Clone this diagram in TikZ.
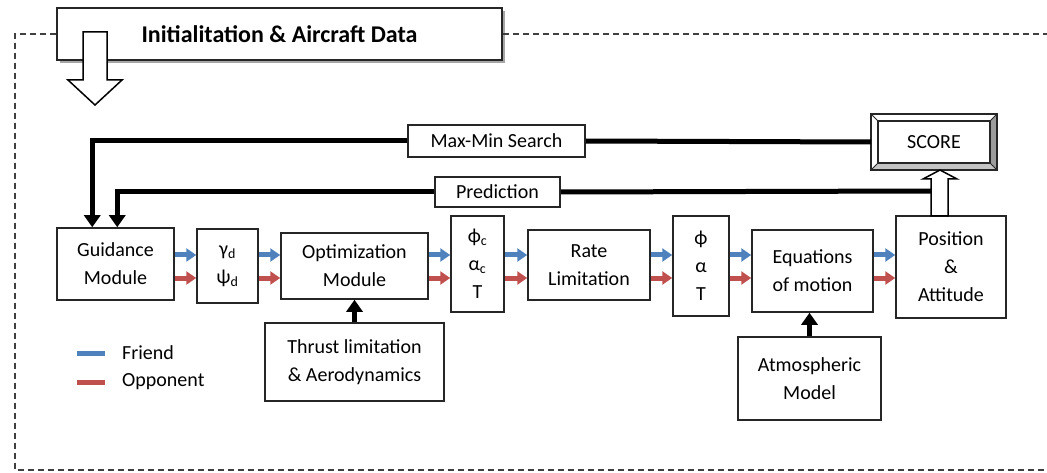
\documentclass[tikz,border=0pt]{standalone}
\usepackage{fontspec}
\setmainfont{Carlito}
\usepackage{xcolor}
\usepackage{tikz}
\usetikzlibrary{arrows.meta,calc,shadows}
\definecolor{cFriend}{HTML}{4F81BD}
\definecolor{cOpp}{HTML}{C0504D}
\definecolor{cFrame}{HTML}{404040}
\definecolor{cBevel}{HTML}{9C9C9C}
\definecolor{cShadow}{HTML}{A6A6A6}

\begin{document}
\begin{tikzpicture}[x=1pt,y=-1pt,
  blk/.style={draw=black!85,line width=1.5pt,fill=white,align=center,
    inner sep=0pt,font=\fontsize{20}{28}\selectfont},
  fr/.style={draw=cFriend,line width=5pt,-{Triangle[length=10pt,width=13pt]}},
  op/.style={draw=cOpp,line width=5pt,-{Triangle[length=10pt,width=13pt]}},
  fb/.style={draw=black,line width=5pt},
  fbar/.style={fb,-{Triangle[length=12pt,width=16pt]}},
  hollow/.style={draw=black,fill=white,line width=1.5pt,line join=miter},
  frame/.style={draw=cFrame,line width=1.8pt,dash pattern=on 6pt off 4pt},
  lab/.style={font=\fontsize{20}{24}\selectfont,inner sep=0pt,anchor=west}]

  \useasboundingbox (0,0) rectangle (1047,473);

  % title and outer frame
  \node[blk,minimum width=445,minimum height=52,font=\bfseries\fontsize{24}{28}\selectfont,
    drop shadow={shadow xshift=3pt,shadow yshift=-3pt,fill=cShadow,opacity=1}]
    (title) at (279.5,34) {Initialitation \& Aircraft Data};
  \draw[frame] (title.west) -- (15,34) -- (15,470) -- (1047,470);
  \draw[frame] (title.east) -- (1047,34);
  \draw[hollow] (83,32) -- (107,32) -- (107,80) -- (122,80) -- (95,105)
    -- (68,80) -- (83,80) -- cycle;

  \foreach \n/\x/\y/\w/\h/\t in {
    guid/115.5/264/117/72/{Guidance\\Module},
    gam/227.5/266/61/74/{γ\textsubscript{d}\\ψ\textsubscript{d}},
    opt/354.5/266/147/66/{Optimization\\Module},
    phc/477.5/264/53/96/{ϕ\textsubscript{c}\\α\textsubscript{c}\\T},
    rate/589/265/122/70/{Rate\\Limitation},
    phi/701/266/56/100/{ϕ\\α\\T},
    eqm/812.5/271/121/82/{Equations\\of motion},
    pos/951/267/110/102/{Position\\\&\\Attitude},
    thr/354.5/362/179/78/{Thrust limitation\\\& Aerodynamics},
    atm/809.5/378.5/143/83/{Atmospheric\\Model},
    mm/496.5/141/177/32/{Max-Min Search},
    pred/497.5/192/125/30/{Prediction}}
    {\node[blk,minimum width=\w,minimum height=\h] (\n) at (\x,\y) {\t};}

  % score box with bevel
  \node[blk,outer sep=0pt,minimum width=126,minimum height=56] (score) at (934,142) {SCORE};
  \fill[cBevel] (score.north east) -- (score.south east) -- ($(score.south east)+(-7,-7)$)
    -- ($(score.north east)+(-7,7)$) -- cycle;
  \fill[cBevel!60] (score.south west) -- (score.south east) -- ($(score.south east)+(-7,-7)$)
    -- ($(score.south west)+(7,-7)$) -- cycle;
  \draw[line width=1.5pt,black!85] (score.north west) rectangle (score.south east)
    ($(score.north west)+(7,7)$) rectangle ($(score.south east)+(-7,-7)$);
  \draw[line width=0.8pt,black!85] (score.north west) -- ++(7,7) (score.north east) -- ++(-7,7)
    (score.south east) -- ++(-7,-7) (score.south west) -- ++(7,-7);
  \draw[hollow] (931,216) -- (931,179) -- (923,179) -- (940,170) -- (957,179)
    -- (948,179) -- (948,216) -- cycle;
  \coordinate (shaft) at (931,191);

  % feedback lines
  \draw[fb] (score.west) -- (mm.east);
  \draw[fbar] (mm.west) -| ([xshift=36]guid.north west);
  \draw[fb] (shaft) -- (pred.east);
  \draw[fbar] (pred.west) -| ([xshift=61]guid.north west);
  \draw[fbar] (thr.north) -- (opt.south);
  \draw[fbar] (atm.north) -- (atm.north |- eqm.south);

  % friend / opponent arrows
  \coordinate (fy) at (0,255);
  \coordinate (oy) at (0,278);
  \foreach \a/\b in {guid/gam,gam/opt,opt/phc,phc/rate,rate/phi,phi/eqm,eqm/pos}
    {\draw[fr] (\a.east |- fy) -- (\b.west |- fy);
     \draw[op] (\a.east |- oy) -- (\b.west |- oy);}

  % legend
  \node[lab] (lfr) at (122,353) {Friend};
  \node[lab] (lop) at (122,382) {Opponent};
  \draw[cFriend,line width=5pt] ([xshift=-45]lfr.west) -- ([xshift=-17]lfr.west);
  \draw[cOpp,line width=5pt] ([xshift=-45]lop.west) -- ([xshift=-17]lop.west);
\end{tikzpicture}
\end{document}
